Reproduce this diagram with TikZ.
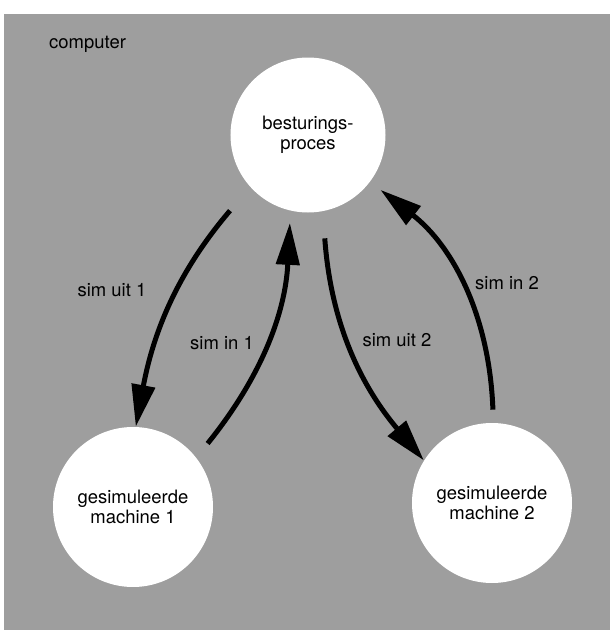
\documentclass[tikz,border=0pt]{standalone}
\usepackage{fontspec}
\setmainfont{TeX Gyre Heros}
\usetikzlibrary{
  arrows.meta,
  positioning
}

\begin{document}
\begin{tikzpicture}[
  proc/.style={circle, fill=white, minimum size=3.2cm, inner sep=0pt, align=center, font=\fontsize{10.5}{11.5}\selectfont},
  flow/.style={line width=0.1cm, -{Triangle[length=0.84cm, width=0.46cm]}},
  lbl/.style={font=\fontsize{10.5}{12}\selectfont},
]
\useasboundingbox (0,0) rectangle (12.2,12.6);
\fill[black!38] (0.08,0) rectangle (12.2,12.32);
\node[lbl, anchor=base west] (comp) at (0.86,11.64) {computer};

% --- Processes ---
\node[proc, minimum size=3.1cm] (ctrl) at (6.16,9.9) {besturings-\\proces};
\node[proc] (mach1) at (2.66,2.46) {gesimuleerde\\machine 1};
\node[proc] (mach2) at (9.84,2.54) {gesimuleerde\\machine 2};

% --- Messages ---
\draw[flow, shorten <=0.62cm] (ctrl.-138) to[bend right=15] (mach1.88);
\draw[flow, shorten <=0.36cm, shorten >=0.24cm] (mach1.38) to[bend right=18] (ctrl.-103);
\draw[flow, shorten <=0.54cm] (ctrl.-79) to[bend right=18] (mach2.148);
\draw[flow, shorten <=0.26cm, shorten >=0.26cm] (mach2.89) to[bend right=25] (ctrl.-37);

\node[lbl] (uit1) at (2.24,6.8) {sim uit 1};
\node[lbl] (in1) at (4.44,5.74) {sim in 1};
\node[lbl] (uit2) at (7.94,5.8) {sim uit 2};
\node[lbl] (in2) at (10.14,6.94) {sim in 2};
\end{tikzpicture}
\end{document}
